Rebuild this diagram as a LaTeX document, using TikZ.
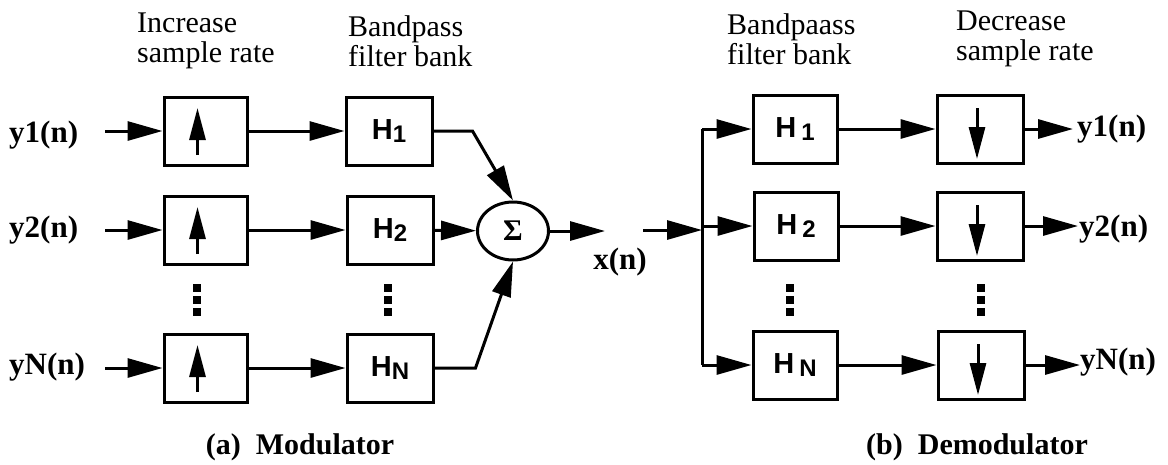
\documentclass[tikz,border=0pt]{standalone}
\usepackage{fontspec}
\setmainfont{Liberation Serif}
\newfontfamily\hfont{Liberation Sans}
\usetikzlibrary{arrows.meta,shapes.geometric,calc}
\newcommand\Hlab[2][0pt]{{\hfont\bfseries\fontsize{29}{29}\selectfont H\kern#1\raisebox{-3pt}{\fontsize{24}{24}\selectfont #2}}}
\begin{document}
\begin{tikzpicture}[x=1pt,y=-1pt,
  lw/.style={line width=3pt},
  blk/.style={draw,lw,minimum width=83pt,minimum height=68pt,inner sep=0pt},
  conn/.style={lw,-{Triangle[length=35pt,width=19pt]}},
  uarr/.style={lw,-{Triangle[length=32pt,width=16pt]}},
  sig/.style={font=\fontsize{31}{31}\selectfont\bfseries,inner sep=0pt},
  hdr/.style={font=\fontsize{30}{30}\selectfont,align=left,anchor=west,inner sep=0pt},
  captxt/.style={font=\fontsize{30}{30}\selectfont\bfseries,inner sep=0pt},
]
\useasboundingbox (0,0) rectangle (1168,464);

% headers
\node[hdr] (hd1) at (137,41) {Increase\\sample rate};
\node[hdr] (hd2) at (348,41) {Bandpass\\filter bank};
\node[hdr] (hd3) at (727,39) {Bandpaass\\filter bank};
\node[hdr] (hd4) at (956,39) {Decrease\\sample rate};

% ---------- modulator ----------
\node[sig,anchor=west] (ly1) at (9,135) {y1(n)};
\node[sig,anchor=west] (ly2) at (9,230) {y2(n)};
\node[sig,anchor=west] (lyN) at (9,367) {yN(n)};
\coordinate (s1) at (105,131);
\coordinate (s2) at (105,230);
\coordinate (sN) at (105,368);

\node[blk] (u1) at (205.5,131) {};
\node[blk] (u2) at (205.5,230) {};
\node[blk] (uN) at (205.5,368) {};

\node[blk,minimum width=86pt] (h1) at (389,131) {\Hlab{1}};
\node[blk,minimum width=86pt] (h2) at (390,230) {\Hlab{2}};
\node[blk,minimum width=86pt] (hN) at (390,368) {\Hlab{N}};

\node[draw,lw,ellipse,minimum width=71pt,minimum height=58pt,inner sep=0pt] (sum) at (513,231)
  {\fontsize{30}{30}\selectfont\bfseries Σ};
\coordinate (xo) at (605,231);
\node[sig] (xl) at (620,262) {x(n)};

\foreach \i in {1,2,N} {
  \draw[conn] (s\i) -- (u\i);
  \draw[conn] (u\i) -- (h\i);
  \draw[uarr] ($(u\i)+(-8,24)$) -- ($(u\i)+(-8,-23)$);
}
\draw[conn] (h1.east) -- ++(39,0) -- (sum.north);
\draw[conn] (h2) -- (sum);
\draw[conn] (hN.east) -- ++(41,0) -- (sum.south);
\draw[conn] (sum) -- (xo);

% ---------- demodulator ----------
\coordinate (xi) at (643,230);
\coordinate (bt) at (702,129);
\coordinate (bb) at (702,365);
\coordinate (bm) at (702,230);
\draw[lw] (bt) -- (bb);
\draw[conn] (xi) -- (bm);

\node[blk,minimum width=84pt] (r1) at (795,129) {\Hlab[5pt]{1}};
\node[blk,minimum width=84pt] (r2) at (796,226) {\Hlab[5pt]{2}};
\node[blk,minimum width=84pt] (rN) at (795,365) {\Hlab[5pt]{N}};

\node[blk,minimum width=86pt] (d1) at (980,129) {};
\node[blk,minimum width=86pt] (d2) at (980,226) {};
\node[blk,minimum width=86pt] (dN) at (981,365) {};

\coordinate (o1) at (1073,129);
\coordinate (o2) at (1078,226);
\coordinate (oN) at (1080,365);
\node[sig,anchor=west] (ry1) at (1077,129) {y1(n)};
\node[sig,anchor=west] (ry2) at (1079,229) {y2(n)};
\node[sig,anchor=west] (ryN) at (1080,362) {yN(n)};

\foreach \i in {1,2,N} {
  \draw[conn] (bt |- r\i) -- (r\i);
  \draw[conn] (r\i) -- (d\i);
  \draw[conn] (d\i) -- (o\i);
  \draw[uarr] ($(d\i)+(-3,-21)$) -- ($(d\i)+(-3,30)$);
}

% dots
\foreach \x in {197,388,790,981} {
  \foreach \d in {-12,0,12} {
    \fill (\x-4,300+\d-4) rectangle (\x+4,300+\d+4);
  }
}

% captions
\node[captxt] (ca) at (300,447) {(a)\ \ Modulator};
\node[captxt] (cb) at (977,447) {(b)\ \ Demodulator};
\end{tikzpicture}
\end{document}
